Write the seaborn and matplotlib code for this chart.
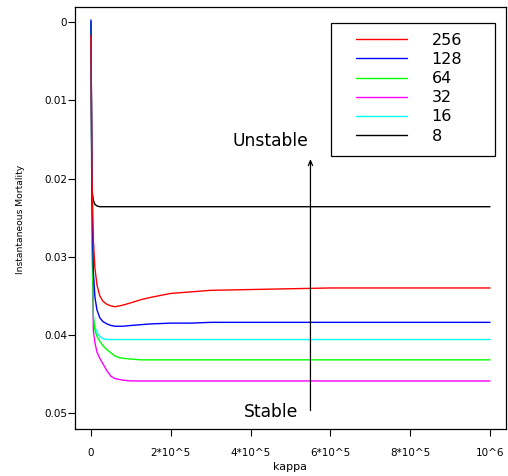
import numpy as np
import pandas as pd
import matplotlib
matplotlib.use("Agg")
import matplotlib.pyplot as plt
from matplotlib.lines import Line2D
from matplotlib.patches import Rectangle
import seaborn as sns

# ---------------- data ----------------
kappa = [0, 2500, 6000, 10000, 15000, 22000, 30000, 40000, 50000, 60000,
         70000, 80000, 100000, 125000, 150000, 200000, 250000, 300000,
         400000, 500000, 600000, 700000, 800000, 900000, 1000000]

m256 = [0.0017, 0.0200, 0.0279, 0.0315, 0.0336, 0.0350, 0.0357, 0.0361, 0.0363, 0.0364,
        0.0363, 0.0362, 0.0359, 0.0355, 0.0352, 0.0347, 0.0345, 0.0343,
        0.0342, 0.0341, 0.0340, 0.0340, 0.0340, 0.0340, 0.0340]
m128 = [-0.0003, 0.0220, 0.0320, 0.0352, 0.0368, 0.0378, 0.0383, 0.0386, 0.0388, 0.0389,
        0.0389, 0.0389, 0.0388, 0.0387, 0.0386, 0.0385, 0.0385, 0.0384,
        0.0384, 0.0384, 0.0384, 0.0384, 0.0384, 0.0384, 0.0384]
m64 = [0.0000, 0.0260, 0.0375, 0.0395, 0.0402, 0.0408, 0.0414, 0.0419, 0.0423, 0.0427,
       0.0429, 0.0430, 0.0431, 0.0432, 0.0432, 0.0432, 0.0432, 0.0432,
       0.0432, 0.0432, 0.0432, 0.0432, 0.0432, 0.0432, 0.0432]
m32 = [0.0000, 0.0260, 0.0395, 0.0410, 0.0422, 0.0430, 0.0437, 0.0446, 0.0453, 0.0456,
       0.0457, 0.0458, 0.0459, 0.0459, 0.0459, 0.0459, 0.0459, 0.0459,
       0.0459, 0.0459, 0.0459, 0.0459, 0.0459, 0.0459, 0.0459]
m16 = [0.0000, 0.0250, 0.0378, 0.0390, 0.0397, 0.0402, 0.0405, 0.0406, 0.0406, 0.0406,
       0.0406, 0.0406, 0.0406, 0.0406, 0.0406, 0.0406, 0.0406, 0.0406,
       0.0406, 0.0406, 0.0406, 0.0406, 0.0406, 0.0406, 0.0406]
m8 = [0.0000, 0.0215, 0.0228, 0.0233, 0.0235, 0.0236, 0.0236, 0.0236, 0.0236, 0.0236,
      0.0236, 0.0236, 0.0236, 0.0236, 0.0236, 0.0236, 0.0236, 0.0236,
      0.0236, 0.0236, 0.0236, 0.0236, 0.0236, 0.0236, 0.0236]

series_labels = ["256", "128", "64", "32", "16", "8"]
series_values = [m256, m128, m64, m32, m16, m8]
series_colors = ["#FF0000", "#0000FF", "#00FF00", "#FF00FF", "#00FFFF", "#000000"]

x_ticks = [0, 200000, 400000, 600000, 800000, 1000000]
x_tick_labels = ["0", "2*10^5", "4*10^5", "6*10^5", "8*10^5", "10^6"]
y_ticks = [0, 0.01, 0.02, 0.03, 0.04, 0.05]
y_tick_labels = ["0", "0.01", "0.02", "0.03", "0.04", "0.05"]

# ---------------- build long table ----------------
rows = []
for lab, vals in zip(series_labels, series_values):
    for k, v in zip(kappa, vals):
        rows.append({"kappa": k, "mortality": v, "size": lab})
df = pd.DataFrame(rows)

sns.set_style("ticks")
plt.rcParams["font.family"] = ["DejaVu Sans"]
plt.rcParams["text.color"] = "black"
plt.rcParams["axes.labelcolor"] = "black"
plt.rcParams["xtick.color"] = "black"
plt.rcParams["ytick.color"] = "black"

W, H = 508, 476
fig = plt.figure(figsize=(W / 100, H / 100), dpi=100)
ax = fig.add_axes([75 / W, 1 - 428.6 / H, (506 - 75) / W, (428.6 - 6.7) / H])

draw_order = ["8", "16", "32", "64", "128", "256"]
palette = dict(zip(series_labels, series_colors))
sns.lineplot(data=df, x="kappa", y="mortality", hue="size", hue_order=draw_order,
             palette=palette, sort=False, estimator=None, legend=False,
             linewidth=1.0, ax=ax)

ax.set_xlim(-40000, 1040000)
ax.set_ylim(0.052, -0.002)
ax.set_xticks(x_ticks)
ax.set_xticklabels(x_tick_labels)
ax.set_yticks(y_ticks)
ax.set_yticklabels(y_tick_labels)
ax.tick_params(axis="both", direction="out", length=5, width=0.8, colors="black",
               labelsize=7.5, labelcolor="black")
ax.tick_params(axis="x", pad=9)
ax.tick_params(axis="y", pad=0.5)
for s in ax.spines.values():
    s.set_visible(True)
    s.set_color("black")
    s.set_linewidth(0.9)

ax.set_xlabel("kappa", fontsize=8, color="black")
ax.xaxis.label.set_va("baseline")
ax.xaxis.set_label_coords(0.499, 1 - (470 - 6.7) / 421.9)
ax.set_ylabel("Instantaneous Mortality", fontsize=6.6, color="black")
ax.yaxis.label.set_va("center")
ax.yaxis.set_label_coords((21 - 75) / 431, 1 - (219 - 6.7) / 421.9)

# annotations
ax.annotate("", xy=(550000, 0.0175), xytext=(550000, 0.0497),
            arrowprops=dict(arrowstyle="->,head_length=0.35,head_width=0.15",
                            color="black", lw=0.9, shrinkA=0, shrinkB=0))
ax.text(450000, 0.0152, "Unstable", ha="center", va="center", fontsize=12.3, color="black")
ax.text(450000, 0.0499, "Stable", ha="center", va="center", fontsize=12.3, color="black")

# legend
handles = [Line2D([], [], color=c, lw=1.0) for c in series_colors]
leg = ax.legend(handles, series_labels, loc="upper left",
                bbox_to_anchor=((355.7 - 75) / 431, 1 - (32.8 - 6.7) / 421.9),
                frameon=False, fontsize=11.5, handlelength=3.2, handletextpad=1.55,
                labelspacing=0.26, borderpad=0, borderaxespad=0, labelcolor="black")
ax.add_patch(Rectangle(((331 - 75) / 431, 1 - (156 - 6.7) / 421.9),
                       (495 - 331) / 431, (156 - 22.7) / 421.9,
                       transform=ax.transAxes, fill=False, ec="black", lw=0.9))

fig.savefig("out.png", dpi=100)
